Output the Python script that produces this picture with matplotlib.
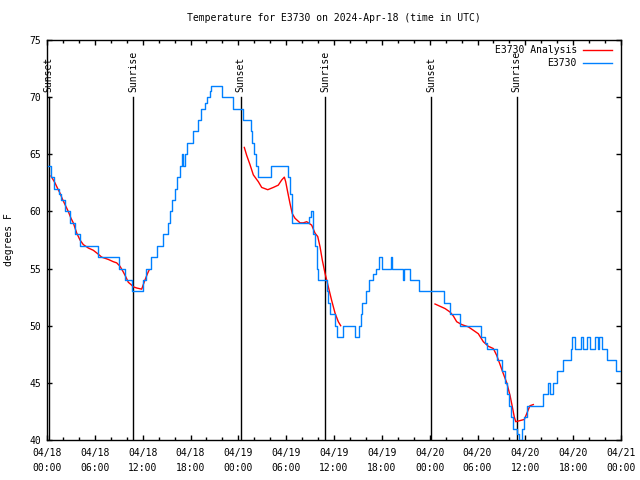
import numpy as np
import pandas as pd
import matplotlib
matplotlib.use("Agg")
from matplotlib import pyplot as plt

plt.rcParams['font.family'] = ['DejaVu Sans Mono']
plt.rcParams['font.size'] = 7

base = pd.Timestamp('2024-04-18 00:00')

# observed temperature (step changes: hours after 04/18 00:00, degrees F)
obs_hours = [0.10, 0.46, 0.90, 1.50, 1.70, 2.26, 2.90, 3.50, 4.10, 6.36, 9.03, 9.80, 10.70,
             12.08, 12.40, 13.00, 13.80, 14.50, 15.15, 15.40, 15.70, 16.05, 16.35, 16.68,
             16.90, 17.10, 17.30, 17.52, 18.30, 19.00, 19.33, 19.80, 20.10, 20.40, 20.57,
             21.99, 23.37, 24.62, 25.55, 25.75, 25.97, 26.18, 26.50, 28.10, 30.27, 30.48,
             30.70, 30.77, 32.87, 33.12, 33.40, 33.62, 33.83, 34.03, 35.09, 35.29, 35.50,
             36.13, 36.34, 37.10, 38.64, 39.14, 39.35, 39.55, 39.98, 40.43, 40.93, 41.23,
             41.68, 41.98, 43.15, 43.32, 44.62, 44.78, 45.54, 46.70, 49.84, 50.55, 51.80,
             54.44, 54.94, 55.23, 56.41, 57.04, 57.45, 57.67, 57.95, 58.20, 58.49, 58.92,
             59.20, 59.55, 59.88, 60.17, 62.26, 62.88, 63.10, 63.44, 63.94, 64.77, 65.69,
             65.90, 66.23, 66.99, 67.28, 67.78, 68.11, 68.74, 69.12, 69.28, 69.58, 70.28,
             71.37, 72.00]
obs_temps = [64, 63, 62, 61.5, 61, 60, 59, 58, 57, 56, 55, 54, 53,
             54, 55, 56, 57, 58, 59, 60, 61, 62, 63, 64,
             65, 64, 65, 66, 67, 68, 69, 69.5, 70, 70.5, 71,
             70, 69, 68, 67, 66, 65, 64, 63, 64, 63, 61.5,
             60, 59, 59.5, 60, 58, 57, 55, 54, 53, 52, 51,
             50, 49, 50, 49, 50, 51, 52, 53, 54, 54.5, 55,
             56, 55, 56, 55, 54, 55, 54, 53, 52, 51, 50,
             49, 48.5, 48, 47, 46, 45, 44, 43, 42, 41, 40.5,
             40, 41, 42, 43, 44, 45, 44, 45, 46, 47, 48,
             49, 48, 49, 48, 49, 48, 49, 48, 49, 48, 47,
             46, 46]

# analysis curve, NaN marks the gaps between runs
ana_hours = [0.50, 1.00, 1.34, 1.63, 1.92, 2.26, 2.67, 3.01, 3.30, 3.73, 4.14, 4.55, 5.18,
             5.81, 6.36, 6.86, 7.69, 8.32, 8.74, 9.16, 9.57, 9.87, 10.20, 10.54, 10.83,
             11.25, 11.88, 12.08, 12.29, 12.63, 12.83, 18.0,
             24.75, 25.05, 25.46, 25.88, 26.51, 26.93, 27.69, 28.39, 29.01, 29.44, 29.77,
             29.94, 30.19, 30.48, 30.77, 31.11, 31.74, 32.15, 32.58, 33.20, 33.62, 33.96,
             34.25, 34.53, 34.87, 35.29, 35.71, 36.13, 36.54, 36.84, 42.0,
             48.67, 49.30, 49.93, 50.55, 50.97, 51.39, 52.02, 52.85, 53.48, 54.10, 54.73,
             55.36, 55.99, 56.41, 56.83, 57.24, 57.67, 58.08, 58.37, 58.62, 58.80, 59.34,
             59.88, 60.17, 60.58, 61.00]
ana_temps = [63.1, 62.5, 62.0, 61.6, 61.1, 60.6, 60.0, 59.4, 59.0, 58.1, 57.5, 57.1, 56.8,
             56.6, 56.3, 56.0, 55.8, 55.6, 55.5, 55.2, 54.7, 54.3, 53.8, 53.6, 53.4,
             53.3, 53.2, 53.6, 54.0, 54.6, 54.9, np.nan,
             65.6, 64.9, 64.1, 63.2, 62.6, 62.1, 61.9, 62.1, 62.3, 62.75, 63.0,
             62.6, 61.7, 60.7, 59.8, 59.4, 59.0, 59.0, 59.1, 58.8, 58.1, 57.8,
             56.9, 55.75, 54.6, 53.4, 52.2, 51.1, 50.35, 50.0, np.nan,
             51.9, 51.7, 51.5, 51.2, 50.85, 50.35, 50.1, 49.9, 49.6, 49.3, 48.6,
             48.2, 48.0, 47.4, 46.6, 45.8, 45.0, 43.9, 42.9, 42.0, 41.6, 41.7,
             41.8, 42.3, 43.0, 43.1]

sun_hours = [0.20, 10.85, 24.30, 34.90, 48.20, 58.90]
sun_labels = ['Sunset', 'Sunrise', 'Sunset', 'Sunrise', 'Sunset', 'Sunrise']

tick_days = ['04/18'] * 4 + ['04/19'] * 4 + ['04/20'] * 4 + ['04/21']
tick_times = ['00:00', '06:00', '12:00', '18:00'] * 3 + ['00:00']

obs_t = base + pd.to_timedelta(obs_hours, unit='h')
ana_t = base + pd.to_timedelta(ana_hours, unit='h')
sun_t = base + pd.to_timedelta(sun_hours, unit='h')

lw = 1.0

fig = plt.figure(figsize=(6.4, 4.8), dpi=100)
ax = fig.add_axes([47 / 640, 40 / 480, 574 / 640, 400 / 480])

for t, lab in zip(sun_t, sun_labels):
    ax.plot([t, t], [40, 70], color='black', lw=lw, zorder=1)
    ax.text(t, 70.45, lab, rotation=90, ha='center', va='bottom', fontsize=7)

ax.plot(ana_t, ana_temps, color='#ff0000', lw=lw, label='E3730 Analysis', zorder=2)
ax.plot(obs_t, obs_temps, color='#0080ff', lw=lw, drawstyle='steps-post', label='E3730',
        zorder=3)

ax.set_xlim(base, base + pd.Timedelta(hours=72))
ax.set_ylim(40, 75)
ax.set_yticks(range(40, 76, 5))

ax.set_xticks(pd.date_range(base, periods=13, freq='6h'))
ax.set_xticklabels([d + '\n' + h for d, h in zip(tick_days, tick_times)])
ax.set_xticks(pd.date_range(base, periods=37, freq='2h'), minor=True)
for lbl in ax.get_xticklabels():
    lbl.set_linespacing(1.55)

ax.tick_params(which='both', direction='in', top=True, right=True, width=lw)
ax.tick_params(which='major', length=3.8)
ax.tick_params(which='minor', length=2.2)
ax.tick_params(axis='x', pad=6)
ax.tick_params(axis='y', pad=4)
for s in ax.spines.values():
    s.set_linewidth(lw)

ax.set_title('Temperature for E3730 on 2024-Apr-18 (time in UTC)', fontsize=7, pad=14)
ax.set_ylabel('degrees F')
ax.yaxis.set_label_coords(-0.058, 0.5)

ax.legend(loc='upper right', bbox_to_anchor=(0.984, 0.9875), frameon=False,
          markerfirst=False, borderpad=0, borderaxespad=0, handlelength=3.0,
          handletextpad=0.6, labelspacing=0.35)

fig.savefig('out.png', dpi=100)
